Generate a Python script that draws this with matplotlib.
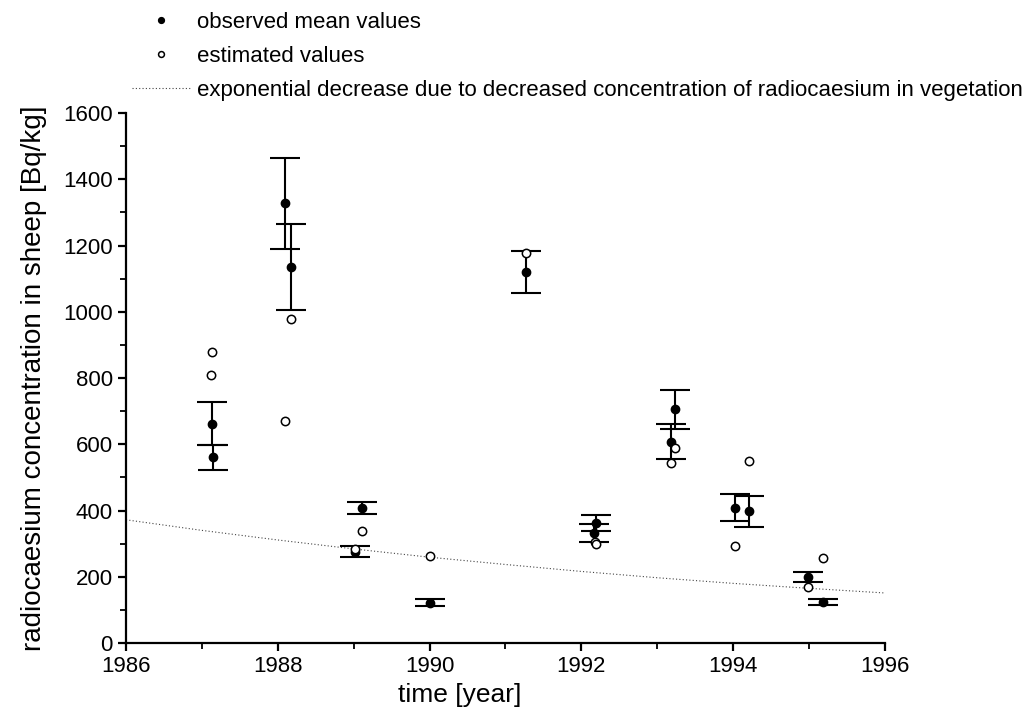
import matplotlib
matplotlib.use("Agg")
import matplotlib.pyplot as plt
from matplotlib.ticker import MultipleLocator

plt.rcParams['font.family'] = ['Liberation Sans', 'DejaVu Sans']

# observed mean values with error bar limits
obs_year = [1987.13, 1987.14, 1988.10, 1988.18, 1989.02, 1989.11, 1990.00, 1991.27,
            1992.17, 1992.19, 1993.18, 1993.23, 1994.03, 1994.21, 1994.98, 1995.18]
obs_value = [662, 562, 1329, 1136, 275, 408, 122, 1120,
             332, 363, 608, 706, 409, 399, 198, 123]
obs_low = [598, 523, 1191, 1004, 260, 389, 113, 1058,
           306, 339, 555, 646, 368, 351, 185, 115]
obs_high = [728, 598, 1464, 1264, 292, 425, 133, 1183,
            359, 387, 661, 764, 449, 445, 213, 133]

# estimated values
est_year = [1987.13, 1987.12, 1988.09, 1988.18, 1989.02, 1989.11, 1990.00, 1991.27,
            1992.18, 1992.19, 1993.23, 1993.18, 1994.21, 1994.03, 1994.98, 1995.18]
est_value = [878, 808, 670, 979, 285, 337, 262, 1178,
             304, 298, 590, 543, 550, 293, 170, 256]

# exponential decrease line
trend_year = [1986, 1987, 1988, 1989, 1990, 1991, 1992, 1993, 1994, 1995, 1996]
trend_value = [372, 340, 311, 284, 259, 237, 216, 197, 180, 165, 151]

fig = plt.figure(figsize=(10.31, 7.21), dpi=100)
ax = fig.add_axes([0.1222, 0.1082, 0.7362, 0.735])

err = [[v - lo for v, lo in zip(obs_value, obs_low)],
       [hi - v for v, hi in zip(obs_value, obs_high)]]

trend, = ax.plot(trend_year, trend_value, color='#444444', lw=0.8,
                 linestyle=(0, (1, 2)), zorder=1)
ax.errorbar(obs_year, obs_value, yerr=err, fmt='none', ecolor='black',
            elinewidth=1.5, capsize=11, capthick=1.5, zorder=2)
obs, = ax.plot(obs_year, obs_value, 'o', color='black', ms=6, zorder=3)
est, = ax.plot(est_year, est_value, 'o', mfc='white', mec='black', mew=1.1,
               ms=6, zorder=4)

ax.set_xlim(1986, 1996)
ax.set_ylim(0, 1600)
ax.xaxis.set_major_locator(MultipleLocator(2))
ax.xaxis.set_minor_locator(MultipleLocator(1))
ax.yaxis.set_major_locator(MultipleLocator(200))
ax.yaxis.set_minor_locator(MultipleLocator(100))

for s in ['top', 'right']:
    ax.spines[s].set_visible(False)
for s in ['left', 'bottom']:
    ax.spines[s].set_linewidth(1.6)
ax.tick_params(which='major', direction='out', length=6, width=1.6, labelsize=16)
ax.tick_params(which='minor', direction='out', length=4, width=1.3)

ax.set_xlabel('time [year]', fontsize=19, labelpad=6)
ax.xaxis.set_label_coords(0.44, -0.075)
ax.set_ylabel('radiocaesium concentration in sheep [Bq/kg]', fontsize=20, labelpad=12)

fig.legend([obs, est, trend],
           ['observed mean values', 'estimated values',
            'exponential decrease due to decreased concentration of radiocaesium in vegetation'],
           loc='upper left', bbox_to_anchor=(0.109, 1.011), frameon=False,
           fontsize=16, markerscale=0.7, handlelength=2.6, handletextpad=0.3,
           labelspacing=0.58)

fig.savefig('out.png', dpi=100)
